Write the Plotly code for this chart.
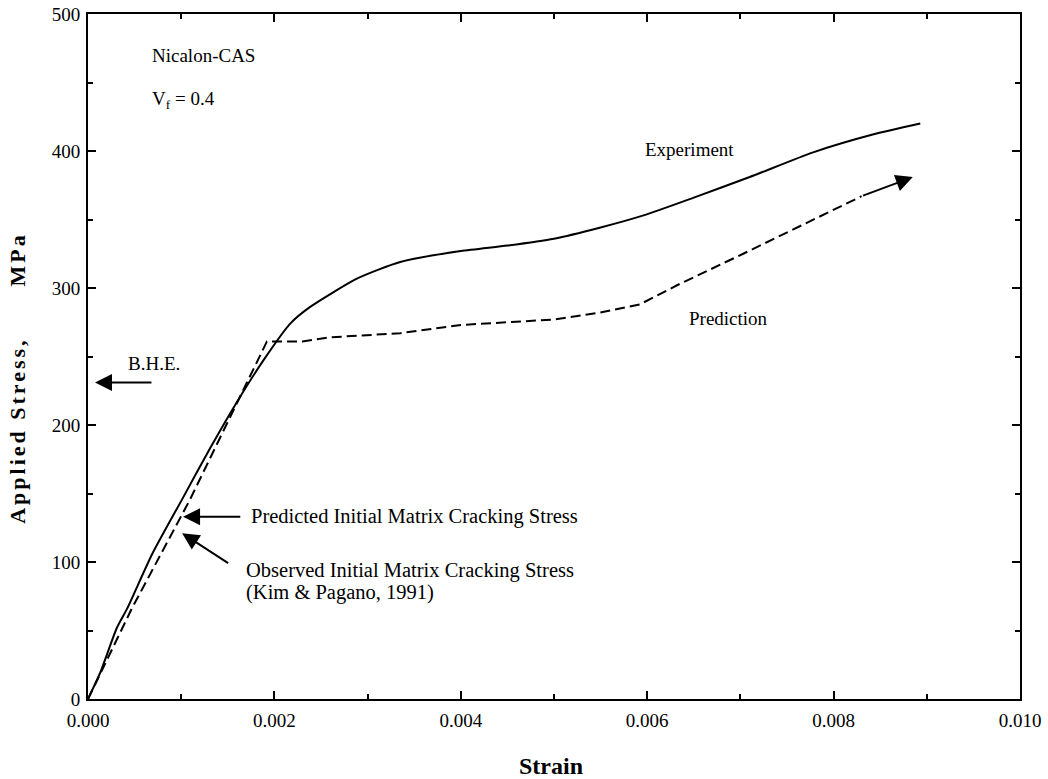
import plotly.graph_objects as go

# ---- data ----
exp_strain = [0, 0.00013, 0.00031, 0.00042, 0.00069, 0.00102, 0.00131, 0.0016, 0.00188,
              0.00217, 0.00238, 0.00289, 0.00335, 0.004, 0.0045, 0.005, 0.00549, 0.00596,
              0.0065, 0.0071, 0.00778, 0.00842, 0.00893]
exp_stress = [0, 19, 52, 66, 106, 147, 183, 217, 247,
              274, 286, 307, 319, 327, 331, 336, 344, 353,
              366, 381, 399, 412, 420]

pred_strain = [0, 0.00047, 0.00109, 0.00192, 0.0023, 0.0026, 0.00335, 0.004, 0.005,
               0.00549, 0.00592, 0.00632, 0.00703, 0.00764, 0.0083]
pred_stress = [0, 66, 145, 261, 261, 264, 267, 273, 277,
               282, 288, 302, 325, 345, 367]
pred_arrow_tip = (0.00885, 381)

x_ticks = [0, 0.002, 0.004, 0.006, 0.008, 0.010]
x_ticktext = ["0.000", "0.002", "0.004", "0.006", "0.008", "0.010"]
y_ticks = [0, 100, 200, 300, 400, 500]

FONT = "Liberation Serif"

fig = go.Figure()
fig.add_trace(go.Scatter(x=exp_strain, y=exp_stress, mode="lines",
                         line=dict(color="black", width=2, shape="spline", smoothing=0.6),
                         showlegend=False, hoverinfo="skip"))
fig.add_trace(go.Scatter(x=pred_strain, y=pred_stress, mode="lines",
                         line=dict(color="black", width=2, dash="10px,5px"),
                         showlegend=False, hoverinfo="skip"))

axis_common = dict(showline=True, linecolor="black", linewidth=2, mirror="ticks",
                   ticks="inside", ticklen=8, tickwidth=1.5, tickcolor="black",
                   showgrid=False, zeroline=False, ticklabeloverflow="allow",
                   automargin=False,
                   tickfont=dict(family=FONT, size=19, color="black"))

fig.update_xaxes(range=[0, 0.010], tickvals=x_ticks, ticktext=x_ticktext,
                 minor=dict(dtick=0.001, ticks="inside", ticklen=5, tickcolor="black", tickwidth=1.5),
                 ticklabelstandoff=3, **axis_common)
fig.update_yaxes(range=[0, 500], tickvals=y_ticks,
                 minor=dict(dtick=50, ticks="inside", ticklen=5, tickcolor="black", tickwidth=1.5),
                 ticklabelstandoff=2, **axis_common)

tf = dict(family=FONT, size=19, color="black")
tf2 = dict(family=FONT, size=20.5, color="black")
texts = [
    ("Nicalon-CAS", 0.000665, 470, tf),
    ("V<sub>f</sub> = 0.4", 0.000665, 437, tf),
    ("Experiment", 0.00596, 401, tf),
    ("Prediction", 0.00643, 278, tf),
    ("B.H.E.", 0.00041, 245, tf),
    ("Predicted Initial Matrix Cracking Stress", 0.00173, 133, tf2),
    ("Observed Initial Matrix Cracking Stress", 0.00167, 94, tf2),
    ("(Kim &amp; Pagano, 1991)", 0.00167, 78, tf2),
]
for t, x, y, f in texts:
    fig.add_annotation(x=x, y=y, text=t, showarrow=False, xanchor="left", yanchor="middle", font=f)

arrows = [
    ((0.000075, 231), (0.000697, 231)),
    ((0.00102, 133), (0.00165, 133)),
    ((0.00101, 121), (0.00152, 98.5)),
    (pred_arrow_tip, (pred_strain[-1], pred_stress[-1])),
]
for (tx, ty), (ax, ay) in arrows:
    fig.add_annotation(x=tx, y=ty, ax=ax, ay=ay, xref="x", yref="y", axref="x", ayref="y",
                       text="", showarrow=True, arrowhead=2, arrowsize=1.7, arrowwidth=2,
                       arrowcolor="black", standoff=0, startstandoff=0)

fig.add_annotation(x=0.497, y=-0.098, xref="paper", yref="paper", text="<b>Strain</b>",
                   showarrow=False, xanchor="center", yanchor="middle",
                   font=dict(family=FONT, size=24, color="black"))
fig.add_annotation(x=-0.075, y=0.469, xref="paper", yref="paper",
                   text='<span style="letter-spacing:3px"><b>Applied\u00a0Stress, '
                        + "\u00a0" * 5 + 'MPa</b></span>',
                   textangle=-90,
                   showarrow=False, xanchor="center", yanchor="middle",
                   font=dict(family=FONT, size=22, color="black"))

fig.update_layout(width=1048, height=779, margin=dict(l=88, r=28, t=14, b=80),
                  paper_bgcolor="white", plot_bgcolor="white", showlegend=False)

# remove the default page margin so the figure sits at the window's top-left corner
fig.write_html("out.html", config={"displayModeBar": False},
               post_script="document.body.style.margin='0';")
